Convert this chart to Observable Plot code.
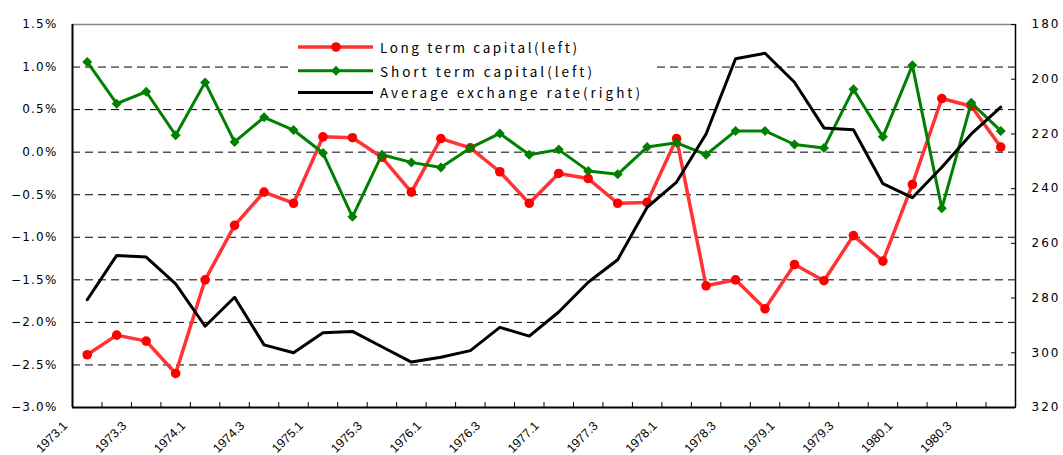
<!DOCTYPE html>
<html><head><meta charset="utf-8">
<script src="https://cdn.jsdelivr.net/npm/d3@7"></script>
<script src="https://cdn.jsdelivr.net/npm/@observablehq/plot@0.6"></script>
<style>
body{margin:0;background:#fff;}
#wrap{position:relative;width:1063px;height:455px;overflow:hidden;background:#fff;}
#legend{position:absolute;left:290px;top:33px;}
</style></head><body><div id="wrap"></div>
<script>
const quarters = ["1973.1","1973.2","1973.3","1973.4","1974.1","1974.2","1974.3","1974.4",
  "1975.1","1975.2","1975.3","1975.4","1976.1","1976.2","1976.3","1976.4",
  "1977.1","1977.2","1977.3","1977.4","1978.1","1978.2","1978.3","1978.4",
  "1979.1","1979.2","1979.3","1979.4","1980.1","1980.2","1980.3","1980.4"];
const longTerm = [-2.38,-2.15,-2.22,-2.60,-1.50,-0.86,-0.47,-0.60,0.18,0.17,-0.06,-0.47,0.16,0.05,-0.23,-0.60,
  -0.25,-0.31,-0.60,-0.59,0.16,-1.57,-1.50,-1.84,-1.32,-1.51,-0.98,-1.28,-0.38,0.63,0.54,0.06];
const shortTerm = [1.06,0.57,0.71,0.20,0.82,0.12,0.41,0.26,-0.01,-0.76,-0.03,-0.12,-0.18,0.05,0.22,-0.03,
  0.03,-0.22,-0.26,0.06,0.11,-0.03,0.25,0.25,0.09,0.05,0.74,0.18,1.02,-0.66,0.58,0.25];
const exchangeRate = [280.6,264.4,265.0,274.8,290.3,279.7,297.1,300.0,292.7,292.2,297.8,303.4,301.6,299.2,290.7,293.9,
  285.1,274.2,266.0,246.8,237.6,220.0,192.5,190.5,201.1,217.8,218.5,238.2,243.3,232.2,220.0,210.2];
const leftTicks = [-3,-2.5,-2,-1.5,-1,-0.5,0,0.5,1,1.5];
const gridTicks = [-2.5,-2,-1.5,-1,-0.5,0,0.5,1];
const rightTicks = [180,200,220,240,260,280,300,320];
const seriesNames = ["Long term capital(left)","Short term capital(left)","Average exchange rate(right)"];
const seriesColors = ["#ff3333","#008000","#000000"];

// right axis (inverted, 180 top .. 320 bottom) mapped onto the left scale
const toLeft = d3.scaleLinear().domain([180,320]).range([1.5,-3]);
const rows = quarters.map((q,i)=>({q, pos:i+0.5, lt:longTerm[i], st:shortTerm[i], fx:toLeft(exchangeRate[i])}));
const labelRows = rows.filter((d,i)=>i%2===0);
const pctFmt = d3.format(".1f");

const chart = Plot.plot({
  width:1063, height:455, marginLeft:72, marginRight:48, marginTop:24, marginBottom:48,
  style:{fontFamily:"DejaVu Sans", fontSize:"12px", color:"#000", background:"#fff", overflow:"visible"},
  x:{domain:[0,32], label:null},
  y:{domain:[-3,1.5], label:null},
  marks:[
    Plot.gridY(gridTicks, {stroke:"#000", strokeOpacity:1, strokeDasharray:"8,5", strokeWidth:1}),
    Plot.ruleY([1.5], {stroke:"#888", strokeWidth:1.5}),
    Plot.axisY(leftTicks, {anchor:"left", tickSize:0, tickPadding:15, tickFormat:d=>pctFmt(d)+"%", fontSize:12, label:null}),
    Plot.axisY(rightTicks.map(toLeft), {anchor:"right", tickSize:5, dx:-5, tickFormat:()=>"", stroke:"#000", label:null}),
    Plot.axisY(rightTicks.map(toLeft), {anchor:"right", tickSize:0, tickPadding:16, tickFormat:d=>String(Math.round(toLeft.invert(d))), fontSize:12, label:null}),
    Plot.axisX(d3.range(0,33), {anchor:"bottom", tickSize:5, dy:-5, tickFormat:()=>"", stroke:"#000", label:null}),
    Plot.text(labelRows, {x:"pos", text:"q", frameAnchor:"bottom", rotate:-45, textAnchor:"end", lineAnchor:"bottom",
      dx:-19, dy:19, fontFamily:"Liberation Sans", fontSize:12.5}),
    Plot.ruleX([0], {stroke:"#000", strokeWidth:2}),
    Plot.ruleX([32], {stroke:"#000", strokeWidth:1.5}),
    Plot.ruleY([-3], {stroke:"#000", strokeWidth:2}),
    Plot.line(rows, {x:"pos", y:"lt", stroke:seriesColors[0], strokeWidth:3.5}),
    Plot.dot(rows, {x:"pos", y:"lt", fill:"#ff0000", stroke:"none", r:4.8}),
    Plot.line(rows, {x:"pos", y:"st", stroke:seriesColors[1], strokeWidth:3}),
    Plot.dot(rows, {x:"pos", y:"st", fill:seriesColors[1], stroke:"none", symbol:"diamond2", r:4.5}),
    Plot.line(rows, {x:"pos", y:"fx", stroke:seriesColors[2], strokeWidth:3})
  ]
});
document.getElementById("wrap").appendChild(chart);

// letter spacing for axis labels
chart.querySelectorAll('g[aria-label="y-axis tick label"]').forEach(g=>{
  const anchor = g.getAttribute("text-anchor");
  g.setAttribute("letter-spacing", anchor === "end" ? "1.2px" : "2px");
});

// legend overlay (inside plot area, white box)
const rowY = [14, 37.7, 59.5];
const baseY = [19.5, 43.5, 64.5];
const textLen = [197, 212, 260];
const leg = d3.create("svg").attr("id","legend").attr("width",362).attr("height",70);
leg.append("rect").attr("width",362).attr("height",70).attr("fill","#fff");
seriesNames.forEach((name,i)=>{
  leg.append("line").attr("x1",8).attr("x2",83).attr("y1",rowY[i]).attr("y2",rowY[i])
    .attr("stroke",seriesColors[i]).attr("stroke-width", i===0?3.5:3);
  if(i===0) leg.append("circle").attr("cx",46).attr("cy",rowY[i]).attr("r",4.8).attr("fill","#ff0000");
  if(i===1) leg.append("path").attr("d",`M46,${rowY[i]-5}L51,${rowY[i]}L46,${rowY[i]+5}L41,${rowY[i]}Z`).attr("fill",seriesColors[1]);
  leg.append("text").attr("x",90).attr("y",baseY[i]).attr("textLength",textLen[i]).attr("lengthAdjust","spacing")
    .attr("font-family","'Noto Sans CJK JP', 'DejaVu Sans'").attr("font-size",13.5).attr("fill","#000").text(name);
});
document.getElementById("wrap").appendChild(leg.node());
</script>
</body></html>
